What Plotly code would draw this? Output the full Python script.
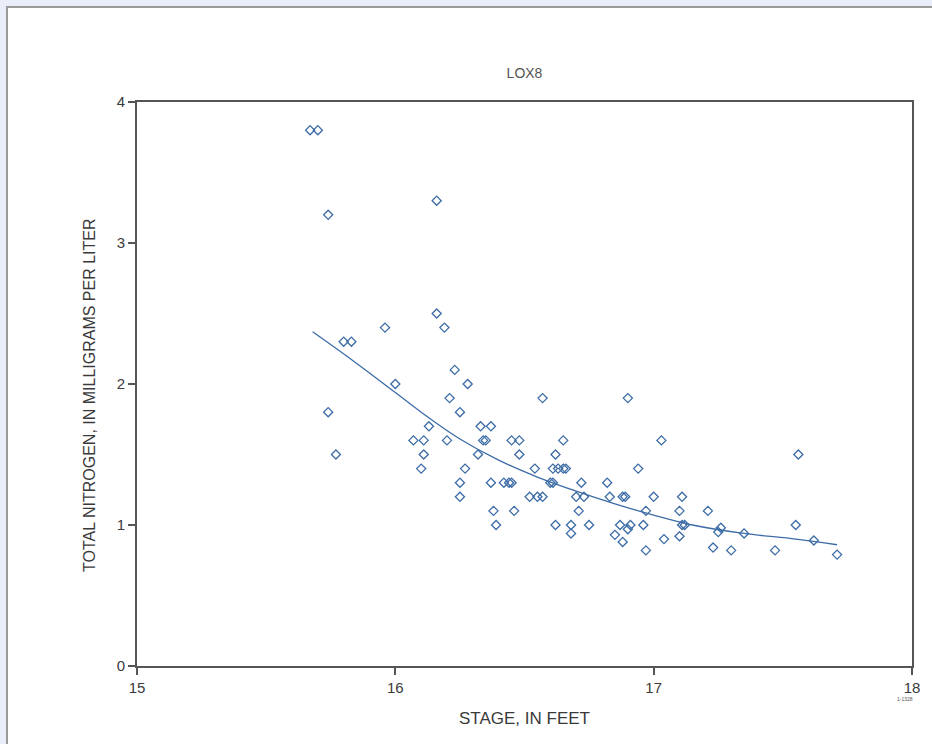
import plotly.graph_objects as go

# Observed samples (stage in feet, total nitrogen mg/L)
stage = [15.67, 15.70, 15.74, 16.16, 16.16, 16.19, 15.96, 15.80, 15.83, 16.23,
         16.28, 16.00, 16.21, 16.57, 16.90, 15.74, 16.25, 16.33, 16.37, 16.13,
         16.34, 16.35, 16.07, 16.11, 16.20, 16.45, 16.48, 16.65, 17.03, 16.32,
         16.11, 15.77, 16.48, 16.62, 17.56, 16.10, 16.27, 16.54, 16.61, 16.63,
         16.65, 16.66, 16.94, 16.25, 16.37, 16.42, 16.44, 16.45, 16.60, 16.61,
         16.72, 16.82, 16.25, 16.52, 16.55, 16.57, 16.70, 16.73, 16.83, 16.88,
         16.89, 17.00, 17.11, 16.38, 16.46, 16.71, 16.97, 17.10, 17.21, 16.39,
         16.62, 16.68, 16.75, 16.87, 16.91, 16.96, 17.11, 17.12, 17.26, 17.55,
         16.68, 16.90, 16.85, 16.88, 16.97, 17.04, 17.10, 17.23, 17.25, 17.35,
         17.62, 17.30, 17.47, 17.71]
nitrogen = [3.80, 3.80, 3.20, 3.30, 2.50, 2.40, 2.40, 2.30, 2.30, 2.10,
            2.00, 2.00, 1.90, 1.90, 1.90, 1.80, 1.80, 1.70, 1.70, 1.70,
            1.60, 1.60, 1.60, 1.60, 1.60, 1.60, 1.60, 1.60, 1.60, 1.50,
            1.50, 1.50, 1.50, 1.50, 1.50, 1.40, 1.40, 1.40, 1.40, 1.40,
            1.40, 1.40, 1.40, 1.30, 1.30, 1.30, 1.30, 1.30, 1.30, 1.30,
            1.30, 1.30, 1.20, 1.20, 1.20, 1.20, 1.20, 1.20, 1.20, 1.20,
            1.20, 1.20, 1.20, 1.10, 1.10, 1.10, 1.10, 1.10, 1.10, 1.00,
            1.00, 1.00, 1.00, 1.00, 1.00, 1.00, 1.00, 1.00, 0.98, 1.00,
            0.94, 0.97, 0.93, 0.88, 0.82, 0.90, 0.92, 0.84, 0.95, 0.94,
            0.89, 0.82, 0.82, 0.79]

# Smoothed curve
curve_x = [15.68, 15.84, 16.00, 16.13, 16.25, 16.40, 16.55, 16.70,
           16.85, 17.00, 17.15, 17.35, 17.55, 17.71]
curve_y = [2.37, 2.16, 1.94, 1.76, 1.61, 1.46, 1.34, 1.24,
           1.15, 1.07, 1.00, 0.94, 0.90, 0.86]

x_ticks = [15, 16, 17, 18]
y_ticks = [0, 1, 2, 3, 4]

W, H = 932, 744
ML, MR, MT, MB = 137, 20, 102, 78
pw, ph = W - ML - MR, H - MT - MB

def px(x):
    return (x - ML) / pw

def py(y):
    return (H - MB - y) / ph

blue = "#3d6ca6"
axis_col = "#555555"
text_col = "#3a3a3a"
font_fam = "Liberation Sans Narrow, Arial Narrow, Liberation Sans, Arial, sans-serif"

fig = go.Figure()
fig.add_trace(go.Scatter(
    x=curve_x, y=curve_y, mode="lines",
    line=dict(color=blue, width=1.3, shape="spline"),
    hoverinfo="skip", showlegend=False))
fig.add_trace(go.Scatter(
    x=stage, y=nitrogen, mode="markers",
    marker=dict(symbol="diamond-open", size=7, color=blue,
                line=dict(color=blue, width=1.3)),
    showlegend=False))

fig.add_shape(type="rect", xref="paper", yref="paper",
              x0=px(7), x1=px(950), y0=py(760), y1=py(7),
              fillcolor="white", line=dict(color="#9a9a9a", width=2),
              layer="below")

fig.update_layout(
    width=W, height=H,
    margin=dict(l=ML, r=MR, t=MT, b=MB),
    paper_bgcolor="#eaeef8",
    plot_bgcolor="white",
    font=dict(family=font_fam, color=text_col, size=14),
    title=dict(text="LOX8", x=0.5, xref="paper", xanchor="center",
               y=1 - 73 / H, yanchor="middle",
               font=dict(size=14, color="#555555", family=font_fam)),
    xaxis=dict(range=[15, 18], tickvals=x_ticks, ticktext=[str(v) for v in x_ticks],
               showgrid=False, zeroline=False, showline=True, linecolor=axis_col,
               linewidth=2, mirror=True, ticks="outside", ticklen=7, tickwidth=1.5,
               tickcolor=axis_col, tickfont=dict(size=15, family=font_fam, color=text_col),
               title=dict(text="STAGE, IN FEET", standoff=17,
                          font=dict(size=17, family=font_fam, color=text_col))),
    yaxis=dict(range=[0, 4], tickvals=y_ticks, ticktext=[str(v) for v in y_ticks],
               showgrid=False, zeroline=False, showline=True, linecolor=axis_col,
               linewidth=2, mirror=True, ticks="outside", ticklen=7, tickwidth=1.5,
               tickcolor=axis_col, tickfont=dict(size=15, family=font_fam, color=text_col)),
)

fig.add_annotation(x=px(90), y=py(395), xref="paper", yref="paper",
                   text="TOTAL NITROGEN, IN MILLIGRAMS PER LITER", textangle=-90,
                   showarrow=False, xanchor="center", yanchor="middle",
                   font=dict(size=16, family=font_fam, color=text_col))

fig.add_annotation(x=px(915), y=py(704), xref="paper", yref="paper",
                   text="1-1328", showarrow=False,
                   font=dict(size=5, color="#555555", family=font_fam))

fig.write_html("out.html", config={"displayModeBar": False},
               post_script="document.body.style.margin='0';document.body.style.overflow='hidden';")
